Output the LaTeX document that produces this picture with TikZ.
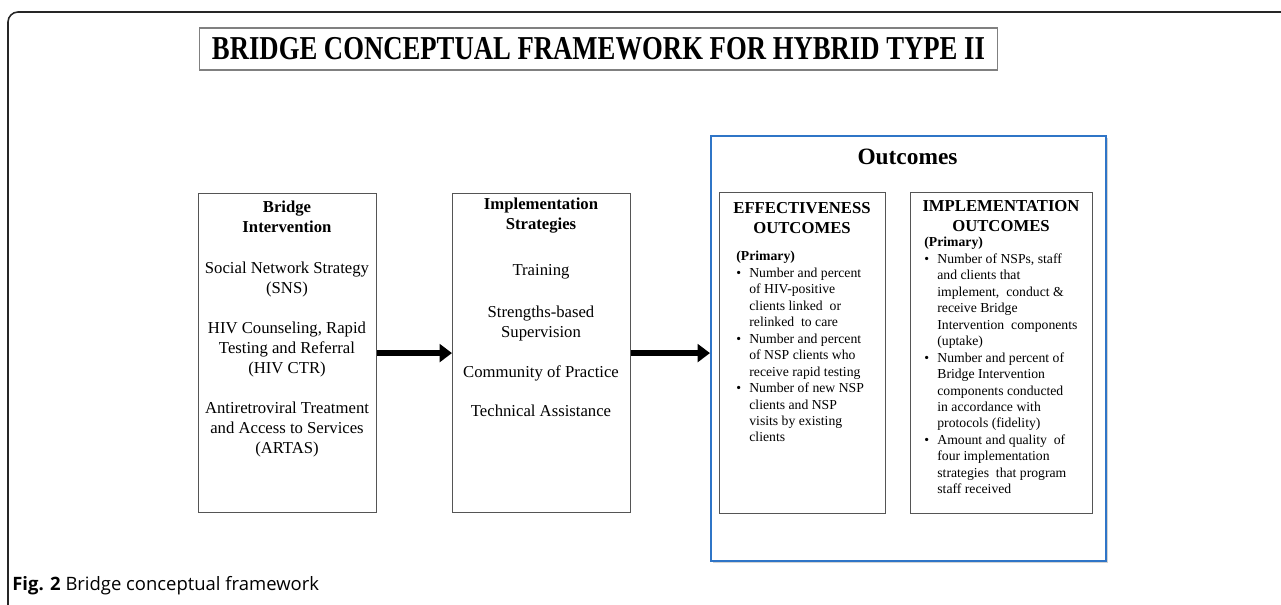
\documentclass[tikz,border=0pt]{standalone}
\usepackage{fontspec}
\setmainfont{Liberation Serif}
\newfontfamily\capfont{Open Sans}
\newfontfamily\ttlfont[FakeStretch=0.8]{Liberation Serif}
\usetikzlibrary{arrows.meta}
\usetikzlibrary{shadows}
\tikzset{>={Triangle[length=7pt,width=10pt]}}
\definecolor{outblue}{RGB}{47,117,199}
\definecolor{boxgray}{RGB}{85,85,85}
\tikzset{
  grbox/.style={draw=boxgray, line width=.7pt, inner sep=0pt, anchor=north west},
  bodytxt/.style={font=\fontsize{9.5}{11.4}\selectfont, align=center, anchor=north, inner sep=0pt},
  headtxt/.style={font=\fontsize{9.5}{11.4}\selectfont\bfseries, align=center, anchor=north, inner sep=0pt},
  listtxt/.style={font=\fontsize{7.8}{9.37}\selectfont, align=left, anchor=north west, inner sep=0pt},
  fat/.style={->, line width=3.2pt},
}
\newcommand{\itm}{\makebox[7.4pt][l]{\textbullet}}
\newcommand{\cnt}{\hspace*{7.4pt}}

\begin{document}
\begin{tikzpicture}[x=0.02cm, y=-0.02cm]
      \useasboundingbox (0,0) rectangle (1281,605);
      % frame
      \draw[line width=.9pt, rounded corners=5.7pt, black!85] (8,605) -- (8,12) -- (1281,12);
      % title
      \node[draw=black!50, line width=.6pt, minimum width=15.98cm, minimum height=.84cm, inner sep=0pt] (title) at (598.5,49)
        {\ttlfont\fontsize{19}{22}\selectfont\bfseries BRIDGE CONCEPTUAL FRAMEWORK FOR HYBRID TYPE II};
      % boxes
      \node[grbox, minimum width=3.56cm, minimum height=6.38cm] (bridge) at (198,193) {};
      \node[grbox, minimum width=3.56cm, minimum height=6.38cm] (strat) at (452,193) {};
      \node[draw=outblue, line width=1.2pt, fill=white, inner sep=0pt, anchor=north west,
        minimum width=7.9cm, minimum height=8.5cm,
        drop shadow={shadow xshift=1pt, shadow yshift=-1pt, opacity=.35}] (outc) at (710,135) {};
      \node[grbox, minimum width=3.32cm, minimum height=6.42cm] (effout) at (719,192) {};
      \node[grbox, minimum width=3.64cm, minimum height=6.42cm] (impout) at (910,192) {};
      % arrows
      \draw[fat] (bridge.east) -- (strat.west);
      \draw[fat] (strat.east) -- (strat.east -| outc.west);
      % texts
      \node[bodytxt] (bridgetxt) at (287,201) {\textbf{Bridge}\\\textbf{Intervention}\\[11.4pt]
        Social Network Strategy\\(SNS)\\[11.4pt]
        HIV Counseling, Rapid\\Testing and Referral\\(HIV CTR)\\[11.4pt]
        Antiretroviral Treatment\\and Access to Services\\(ARTAS)};
      \node[bodytxt] (strattxt) at (541,197.5) {\textbf{Implementation}\\\textbf{Strategies}\\[14.8pt]
        Training\\[12.5pt]
        Strengths-based\\Supervision\\[11.4pt]
        Community of Practice\\[10.8pt]
        Technical Assistance};
      \node[font=\fontsize{13.3}{16}\selectfont\bfseries, inner sep=0pt] (outctxt) at (907.5,157) {Outcomes};
      \node[headtxt] (effhead) at (802,202.4) {EFFECTIVENESS\\OUTCOMES};
      \node[headtxt] (imphead) at (1001,200.5) {IMPLEMENTATION\\OUTCOMES};
      \node[listtxt] (efflist) at (736,251) {\textbf{(Primary)}\\
        \itm Number and percent\\
        \cnt of HIV-positive\\
        \cnt clients linked\ \ or\\
        \cnt relinked\ \ to care\\
        \itm Number and percent\\
        \cnt of NSP clients who\\
        \cnt receive rapid testing\\
        \itm Number of new NSP\\
        \cnt clients and NSP\\
        \cnt visits by existing\\
        \cnt clients};
      \node[listtxt] (implist) at (924,237) {\textbf{(Primary)}\\
        \itm Number of NSPs, staff\\
        \cnt and clients that\\
        \cnt implement,\ \ conduct \&\\
        \cnt receive Bridge\\
        \cnt Intervention\ \ components\\
        \cnt (uptake)\\
        \itm Number and percent of\\
        \cnt Bridge Intervention\\
        \cnt components conducted\\
        \cnt in accordance with\\
        \cnt protocols (fidelity)\\
        \itm Amount and quality\ \ of\\
        \cnt four implementation\\
        \cnt strategies\ \ that program\\
        \cnt staff received};
      % caption
      \node[anchor=base west, inner sep=0pt, font=\capfont\fontsize{10.5}{12}\selectfont] (caption) at (12,590)
        {\textbf{Fig. 2} Bridge conceptual framework};
\end{tikzpicture}
\end{document}
